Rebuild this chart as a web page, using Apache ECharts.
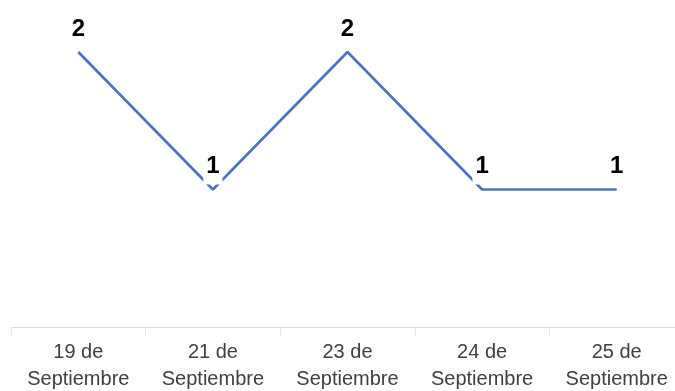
<!DOCTYPE html>
<html>
<head>
<meta charset="utf-8">
<script src="https://cdn.jsdelivr.net/npm/echarts@6/dist/echarts.min.js"></script>
<style>
html,body{margin:0;padding:0;background:#fff;}
#chart{width:675px;height:391px;}
</style>
</head>
<body>
<div id="chart"></div>
<script>
// Days of September shown on the category axis
const categories = ['19 de\nSeptiembre', '21 de\nSeptiembre', '23 de\nSeptiembre', '24 de\nSeptiembre', '25 de\nSeptiembre'];
// Count recorded for each day
const values = [2, 1, 2, 1, 1];

const chart = echarts.init(document.getElementById('chart'));
chart.setOption({
  animation: false,
  grid: { left: 11, width: 673, top: 52, height: 275, containLabel: false, outerBoundsMode: 'none' },
  xAxis: {
    type: 'category',
    data: categories,
    boundaryGap: true,
    axisLine: { lineStyle: { color: '#d9d9d9', width: 1 } },
    axisTick: { show: true, length: 8, interval: 0, lineStyle: { color: '#e6e6e6' } },
    axisLabel: {
      interval: 0,
      hideOverlap: false,
      color: '#404040',
      fontFamily: 'Liberation Sans, Arial, sans-serif',
      fontSize: 20,
      lineHeight: 27,
      margin: 12
    }
  },
  yAxis: {
    type: 'value',
    min: 0,
    max: 2,
    show: false,
    splitLine: { show: false }
  },
  series: [{
    type: 'line',
    data: values,
    symbol: 'circle',
    symbolSize: 0.01,
    showSymbol: true,
    itemStyle: { color: '#4a72c0' },
    lineStyle: { color: '#4a72c0', width: 2.6 },
    label: {
      show: true,
      position: 'top',
      distance: 5,
      color: '#000',
      fontFamily: 'Liberation Sans, Arial, sans-serif',
      fontWeight: 'bold',
      fontSize: 24,
      lineHeight: 24,
      backgroundColor: '#fff',
      padding: [0, 3, 6, 3]
    }
  }]
});
</script>
</body>
</html>
